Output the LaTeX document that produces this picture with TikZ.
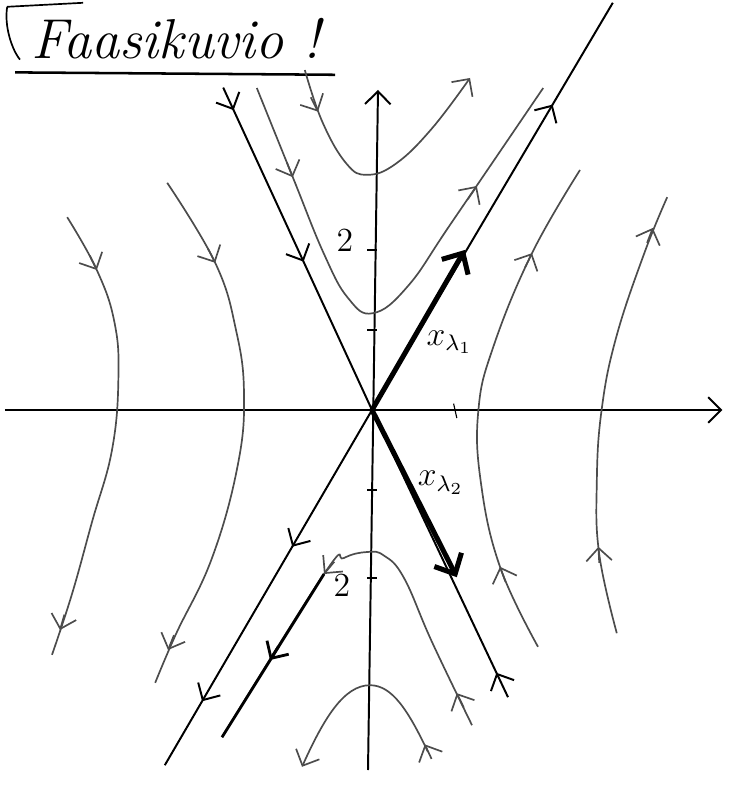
\documentclass[tikz,border=0pt]{standalone}
\usepackage{amsmath,amssymb}
\usepackage{tikz}
\usetikzlibrary{arrows.meta,decorations.markings}

\begin{document}
\begin{tikzpicture}[>={Straight Barb[length=1.6mm,width=3.2mm]}, font=\large,
  traj/.style={black!70, line width=0.6pt},
  eig/.style={black, line width=0.7pt},
  flow/.style={postaction={decorate, decoration={markings, mark=at position #1 with {\arrow{>}}}}},
  evec/.style={line width=1.8pt, -{Straight Barb[length=2mm,width=3.8mm]}}]
  \useasboundingbox (-4.65,-4.7) rectangle (4.4875,5.125);
  % title
  \node[font=\fontsize{20}{24}\selectfont\itshape] (title) at (-2.45,4.64) {Faasikuvio !};
  \draw[line width=0.6pt] (-4.56,5.04) -- (-3.61,5.09);
  \draw[line width=0.6pt] (-4.56,5.04) .. controls (-4.6,4.8) and (-4.5,4.5) .. (-4.4,4.38);
  \draw[line width=0.9pt] (-4.46,4.22) -- (-0.46,4.19);
  % axes
  \coordinate (O) at (0,0);
  \draw[->, line width=0.7pt] (-4.59,0) -- (4.38,0);
  \draw[->, line width=0.7pt] (-0.05,-4.5) -- (0.075,4.0);
  \foreach \y in {2,1,-1,-2.1} {
    \draw (-0.06,\y) -- (0.06,\y);
  }
  \draw (1.02,0.08) -- (1.06,-0.1);
  \node (ylab1) at (-0.34,2.12) {2};
  \node (ylab2) at (-0.375,-2.19) {2};
  % eigenvector lines
  \coordinate (a1) at (3.01,5.09);
  \coordinate (a2) at (-2.59,-4.44);
  \coordinate (b1) at (-1.86,4.03);
  \coordinate (b2) at (1.7,-3.59);
  \draw[eig, flow=0.75] (O) -- (a1);
  \draw[eig, flow=0.385, flow=0.82] (O) -- (a2);
  \draw[eig, flow=0.07, flow=0.54] (b1) -- (O);
  \draw[eig, flow=0.085] (b2) -- (O);
  % eigenvectors
  \coordinate (v1) at (1.16,2.0);
  \coordinate (v2) at (1.06,-2.09);
  \draw[evec] (O) -- (v1);
  \draw[evec] (O) -- (v2);
  \node (lab1) at (0.97,0.85) {$x_{\lambda_1}$};
  \node (lab2) at (0.86,-0.91) {$x_{\lambda_2}$};
  % upper trajectories
  \draw[traj, ->] plot[smooth, tension=0.7] coordinates {(-0.84,4.25) (-0.62,3.6) (-0.32,3.08) (-0.06,2.94) (0.3,3.08) (0.75,3.52) (1.225,4.15)};
  \draw[traj] plot[smooth, tension=0.7] coordinates {(-1.44,4.025) (-0.99,2.91) (-0.6,1.95) (-0.3,1.4) (0.0125,1.21) (0.45,1.55) (1.0,2.35) (2.14,4.025)};
  % lower trajectories
  \draw[traj] plot[smooth, tension=0.7] coordinates {(1.25,-3.94) (0.75,-2.9) (0.4,-2.1) (0.15,-1.82) (-0.06,-1.775) (-0.35,-1.85) (-0.6,-2.05) (-1.875,-4.09)};
  \draw[black, line width=1pt] (-0.6,-2.05) -- (-1.875,-4.09);
  \draw[traj, ->] (0.7,-4.275) .. controls (0.45,-3.75) and (0.25,-3.44) .. (-0.025,-3.44)
    .. controls (-0.35,-3.44) and (-0.6,-3.85) .. (-0.875,-4.46);
  % right trajectories
  \draw[traj] plot[smooth, tension=0.7] coordinates {(2.075,-2.96) (1.6,-1.96) (1.36,-0.9) (1.33,0.0) (1.52,0.8) (2.0,1.96) (2.6,3.0)};
  \draw[traj] plot[smooth, tension=0.7] coordinates {(3.06,-2.79) (2.84,-1.8) (2.81,-0.9) (2.87,0.0) (3.05,0.9) (3.4,1.95) (3.69,2.66)};
  % left trajectories
  \draw[traj] plot[smooth, tension=0.7] coordinates {(-3.81,2.41) (-3.44,1.75) (-3.22,1.1) (-3.17,0.4) (-3.25,-0.5) (-3.5,-1.4) (-3.75,-2.3) (-4.0,-3.06)};
  \draw[traj] plot[smooth, tension=0.7] coordinates {(-2.56,2.84) (-1.96,1.84) (-1.7,1.0) (-1.6,0.2) (-1.68,-0.7) (-2.0,-1.85) (-2.45,-2.8) (-2.71,-3.41)};
  % arrowheads on the trajectories
  \foreach \x/\y/\a in {-0.675/3.73/-63, -0.99/2.91/-68, 1.31/2.8/56, 1.06/-3.54/116, -0.6/-2.05/-130,
      0.66/-4.18/115, 1.6/-1.96/110, 2.0/1.96/64, 2.83/-1.71/93, 3.51/2.275/69,
      -3.44/1.75/-64, -3.9/-2.75/-106, -1.96/1.84/-63, -2.55/-3.0/-112} {
    \draw[traj, ->] (\x,\y) ++(\a:-0.2) -- ++(\a:0.2);
  }
  \draw[black, line width=1pt, ->] (-1.275,-3.125) ++(238:-0.2) -- ++(238:0.2);
\end{tikzpicture}
\end{document}
